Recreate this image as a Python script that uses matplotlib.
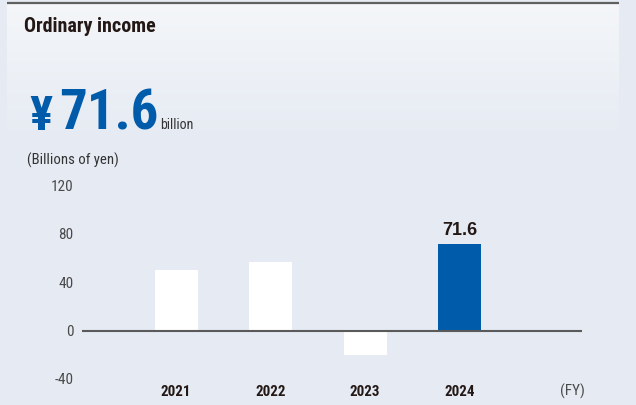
import matplotlib
matplotlib.use("Agg")
import matplotlib.pyplot as plt
import numpy as np

# ordinary income, billions of yen
years = ["2021", "2022", "2023", "2024"]
income = [50.3, 57.0, -20.0, 71.6]
bar_colors = ["#ffffff", "#ffffff", "#ffffff", "#005bab"]
yticks = [-40, 0, 40, 80, 120]

W, H = 636, 405
COND = ["Roboto Condensed", "DejaVu Sans"]
BG = "#e6ebf3"
INK = "#231815"
GREY = "#4a4a4a"

fig = plt.figure(figsize=(W / 100, H / 100), dpi=100)
fig.patch.set_facecolor(BG)

# lighter header panel fading down into the background
panel = fig.add_axes([0, 0, 1, 1], zorder=0)
panel.set_xlim(0, W)
panel.set_ylim(H, 0)
panel.axis("off")
grad = np.linspace(0, 1, 200).reshape(-1, 1)
top_c = np.array([0xf4, 0xf6, 0xf9]) / 255
bot_c = np.array([0xe6, 0xeb, 0xf3]) / 255
img = top_c + (bot_c - top_c) * grad[..., None]
panel.imshow(img, extent=[7, 619, 140, 3], aspect="auto", interpolation="bilinear")
panel.plot([7, 619], [2.5, 2.5], color="#5f5f5f", lw=1.6, solid_capstyle="butt")

def px(x, y):
    return x / W, 1 - y / H

fig.text(*px(24, 27), "Ordinary income", family=COND, fontweight="bold",
         fontsize=14.4, color=INK, va="center", ha="left")
fig.text(*px(29, 130), "¥", family=COND, fontweight="bold", fontsize=35,
         color="#005bab", va="baseline", ha="left")
fig.text(*px(59, 130), "71.6", family=COND, fontweight="bold", fontsize=39.5,
         color="#005bab", va="baseline", ha="left")
fig.text(*px(160, 129), "billion", family=COND, fontsize=10,
         color="#333333", va="baseline", ha="left")
fig.text(*px(27, 160), "(Billions of yen)", family=COND, fontsize=10.6,
         color="#333333", va="center", ha="left")

# bar chart
left, right, top, bottom = 81.7, 581.7, 185.5, 379
ax = fig.add_axes([left / W, 1 - bottom / H, (right - left) / W, (bottom - top) / H])
ax.set_facecolor("none")
x = np.arange(len(years))
ax.bar(x, income, width=0.455, color=bar_colors, zorder=2)
ax.axhline(0, color="#5a5a5a", lw=1.5, zorder=3)
ax.set_xlim(-0.998, 4.293)
ax.set_ylim(-40, 120)
for s in ax.spines.values():
    s.set_visible(False)
ax.set_yticks(yticks)
ax.set_yticklabels([str(v) for v in yticks], family=COND, fontsize=11, color=GREY)
ax.tick_params(axis="y", length=0, pad=6)
ax.set_xticks(x)
ax.set_xticklabels(years, family=COND, fontweight="bold", fontsize=10.8, color=INK)
ax.tick_params(axis="x", length=0, pad=4)

ax.text(x[-1], income[-1] + 4, f"{income[-1]:.1f}", ha="center", va="bottom",
        fontsize=13, fontweight="bold", color=INK, family=["Liberation Sans", "DejaVu Sans"])
fig.text(*px(572, 391), "(FY)", family=COND, fontsize=11, color=GREY,
         ha="center", va="center")

fig.savefig("out.png", dpi=100, facecolor=fig.get_facecolor())
